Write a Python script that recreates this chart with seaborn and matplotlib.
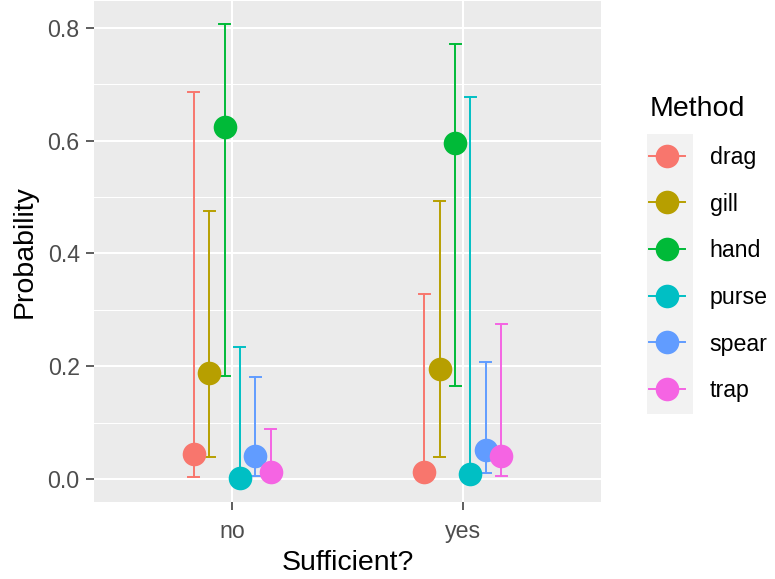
import matplotlib
matplotlib.use("Agg")
import matplotlib.pyplot as plt
import matplotlib.patches as mpatches
from matplotlib.lines import Line2D
from matplotlib.ticker import FixedLocator
import seaborn as sns
import pandas as pd

# ---- data ----
methods = ["drag", "gill", "hand", "purse", "spear", "trap"]
sufficient = ["no", "yes"]
no_est = [0.044, 0.188, 0.624, 0.001, 0.041, 0.013]
no_lo = [0.003, 0.038, 0.182, 0.000, 0.006, 0.002]
no_hi = [0.686, 0.475, 0.807, 0.234, 0.181, 0.089]
yes_est = [0.012, 0.195, 0.595, 0.009, 0.052, 0.041]
yes_lo = [0.001, 0.038, 0.164, 0.000, 0.011, 0.006]
yes_hi = [0.328, 0.492, 0.772, 0.678, 0.207, 0.274]
colors = ["#F8766D", "#B79F00", "#00BA38", "#00BFC4", "#619CFF", "#F564E3"]
yticks = [0.0, 0.2, 0.4, 0.6, 0.8]

rows = []
for s, est, lo, hi in [("no", no_est, no_lo, no_hi), ("yes", yes_est, yes_lo, yes_hi)]:
    for m, e, l, h in zip(methods, est, lo, hi):
        for v in (l, e, h):
            rows.append({"Sufficient?": s, "Method": m, "Probability": v})
df = pd.DataFrame(rows)

plt.rcParams["font.family"] = ["Liberation Sans", "DejaVu Sans"]

W, H = 775, 579
fig = plt.figure(figsize=(W / 100, H / 100), dpi=100)
L, R, T, B = 94, 601, 1, 501.7
ax = fig.add_axes([L / W, 1 - B / H, (R - L) / W, (B - T) / H])
ax.set_facecolor("#EBEBEB")
for sp in ax.spines.values():
    sp.set_visible(False)

palette = dict(zip(methods, colors))
common = dict(data=df, x="Sufficient?", y="Probability", hue="Method",
              order=sufficient, hue_order=methods, palette=palette,
              dodge=0.3333, linestyle="none", ax=ax, legend=False)

# error bars (drawn first, like geom_errorbar)
sns.pointplot(**common, estimator="median", errorbar=("pi", 100),
              capsize=0.048, markersize=0, marker="o",
              err_kws={"linewidth": 1.4})
# points on top
sns.pointplot(**common, estimator="median", errorbar=None,
              marker="o", markersize=17, markeredgewidth=0)

ax.set_xlim(-0.6, 1.6)
ax.set_ylim(-0.0404, 0.8474)
ax.yaxis.set_major_locator(FixedLocator(yticks))
ax.set_yticklabels([f"{t:.1f}" for t in yticks])
ax.yaxis.set_minor_locator(FixedLocator([0.1, 0.3, 0.5, 0.7]))

ax.set_axisbelow(True)
ax.grid(which="major", axis="both", color="white", linewidth=1.45)
ax.grid(which="minor", axis="y", color="white", linewidth=0.75)
ax.tick_params(which="minor", length=0)
ax.tick_params(which="major", length=5.8, width=1.1, color="#333333",
               labelcolor="#4D4D4D", labelsize=16.7)
ax.tick_params(axis="y", pad=4.5)
ax.tick_params(axis="x", pad=7.5)

ax.set_xlabel("Sufficient?", fontsize=20.5, color="black", labelpad=5)
ax.set_ylabel("Probability", fontsize=20.5, color="black", labelpad=7)

# legend
handles = [Line2D([0], [0], color=c, marker="o", markersize=17,
                  markeredgewidth=0, linewidth=1.4) for c in colors]
fig.patches.append(mpatches.Rectangle((647 / W, 1 - 414 / H), 46 / W, (414 - 134) / H,
                                      transform=fig.transFigure,
                                      facecolor="#F2F2F2", edgecolor="none", zorder=0))
leg = fig.legend(handles, methods, title="Method", loc="upper left",
                 bbox_to_anchor=(633 / W, 1 - 80 / H), frameon=False,
                 fontsize=16.7, title_fontsize=20.5, handlelength=1.55,
                 handletextpad=1.05, labelspacing=1.02, borderpad=0.2)
leg._legend_box.align = "left"

fig.savefig("out.png", dpi=100)
